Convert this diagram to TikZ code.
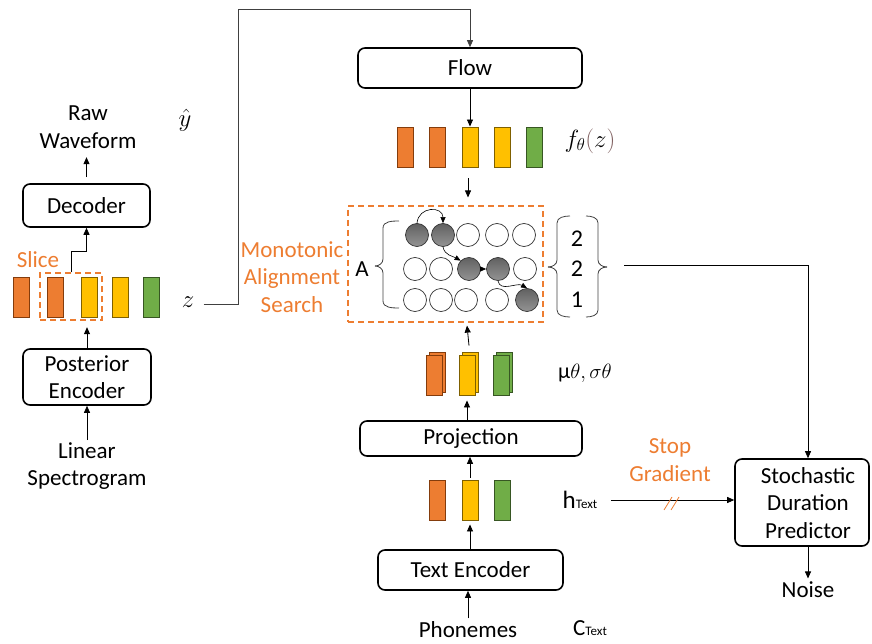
\documentclass[tikz,border=0pt]{standalone}
\usepackage{fontspec}
\setmainfont{Carlito}
\usetikzlibrary{arrows.meta,calc}
\definecolor{orgF}{HTML}{ED7D31}
\definecolor{orgD}{HTML}{843C0C}
\definecolor{yelF}{HTML}{FFC000}
\definecolor{yelD}{HTML}{7F6000}
\definecolor{grnF}{HTML}{70AD47}
\definecolor{grnD}{HTML}{375623}
\definecolor{otxt}{HTML}{ED7D31}
\definecolor{parc}{HTML}{7F5F5F}
\begin{document}
\begin{tikzpicture}[x=1pt,y=-1pt,
  font=\fontsize{23}{27.5}\selectfont,
  box/.style={draw, line width=1.6pt, rounded corners=7pt, inner sep=0pt, align=center},
  bar/.style={draw, line width=0.9pt, minimum width=16pt, minimum height=40pt, inner sep=0pt},
  ob/.style={bar, fill=orgF, draw=orgD},
  yb/.style={bar, fill=yelF, draw=yelD},
  gb/.style={bar, fill=grnF, draw=grnD},
  circ/.style={circle, draw=black!80, line width=0.7pt, minimum size=23pt, inner sep=0pt},
  fcirc/.style={circ, top color=black!62, bottom color=black!42},
  arr/.style={-{Triangle[length=7pt,width=6pt]}, line width=0.8pt},
  odash/.style={draw=otxt, dash pattern=on 6pt off 4pt, line width=1.2pt},
  lbl/.style={align=center, inner sep=2pt},
  brc/.style={line width=0.8pt, draw=black!75},
  mth/.style={font=\fontsize{26}{30}\selectfont}
]
\useasboundingbox (0,0) rectangle (872,644);

% ---------- left column ----------
\node[lbl] (rw) at (88,127) {Raw\\Waveform};
\node[mth] (yhat) at (185,120) {$\hat{y}$};
\node[box, minimum width=127pt, minimum height=43pt] (dec) at (86.5,205.5) {Decoder};
\node[text=otxt] (slicel) at (38,260) {Slice};
\node[ob] (l1) at (21,297) {};
\node[ob] (l2) at (55,297) {};
\node[yb] (l3) at (89,297) {};
\node[yb] (l4) at (120,297) {};
\node[gb] (l5) at (151,297) {};
\node[odash, minimum width=62pt, minimum height=47pt, inner sep=0pt] (slice) at (71,296.5) {};
\node[box, minimum width=128pt, minimum height=56pt] (pe) at (87,377) {Posterior\\Encoder};
\node[lbl] (ls) at (87,466) {Linear\\Spectrogram};
\node[mth] (z) at (188,302) {$z$};

\draw[arr] ($(dec.north)+(0,-6)$) -- ($(dec.north)+(0,-26)$);
\draw[arr] (slice.north) -- (71,251) -| (dec.south);
\draw[arr] (pe.north) -- ($(pe.north)+(0,-21)$);
\draw[arr] (ls.north) -- (pe.south);

% ---------- middle column ----------
\node[box, minimum width=224pt, minimum height=40pt] (flow) at (470,68) {Flow};
\draw[arr, draw=black!75] ($(z.east)+(6,2)$) -- (238,304) -- (238,9) -| (flow.north);
\node[ob] (f1) at (405,147) {};
\node[ob] (f2) at (437,147) {};
\node[yb] (f3) at (470,147) {};
\node[yb] (f4) at (502,147) {};
\node[gb] (f5) at (534,147) {};
\node[mth] (fz) at (590,141) {$f_{\theta}\textcolor{parc}{(}z\textcolor{parc}{)}$};

\node[odash, minimum width=195pt, minimum height=116pt, inner sep=0pt] (mas) at (445.5,264) {};
\node[lbl, text=otxt] (masl) at (292,277) {Monotonic\\Alignment\\Search};
\node (A) at (362,269) {A};

% circles
\node[fcirc] (c11) at (417,235) {};
\node[fcirc] (c12) at (443,235) {};
\node[circ]  (c13) at (468,235) {};
\node[circ]  (c14) at (497,235) {};
\node[circ]  (c15) at (524,235) {};
\node[circ]  (c21) at (415,269) {};
\node[circ]  (c22) at (441,269) {};
\node[fcirc] (c23) at (469,269) {};
\node[fcirc] (c24) at (498,269) {};
\node[circ]  (c25) at (525,269) {};
\node[circ]  (c31) at (415,300) {};
\node[circ]  (c32) at (441,300) {};
\node[circ]  (c33) at (466,300) {};
\node[circ]  (c34) at (497,300) {};
\node[fcirc] (c35) at (527,300) {};

\draw[-{Triangle[length=6pt,width=5pt]}, line width=0.6pt] (c11.north) to[out=85,in=90,looseness=1.7] (c12.north);
\draw[-{Triangle[length=6pt,width=5pt]}, line width=0.6pt] (c12.south) to[out=-80,in=150] (c23.north west);
\draw[-{Triangle[length=6pt,width=5pt]}, line width=0.6pt] (c23.east) -- (c24.west);
\draw[-{Triangle[length=6pt,width=5pt]}, line width=0.6pt] (c24.south) to[out=-80,in=150] (c35.north);

% brace for A
\draw[brc] (399,221) to[out=180,in=90] (383,228) -- (383,259) to[out=-90,in=0] (375,266);
\draw[brc] (399,308) to[out=180,in=-90] (383,301) -- (383,273) to[out=90,in=0] (375,266);

% durations
\node (d1) at (577,239) {\fontsize{24}{28}\selectfont 2};
\node (d2) at (577,269) {\fontsize{24}{28}\selectfont 2};
\node (d3) at (577,300) {\fontsize{24}{28}\selectfont 1};
\draw[brc] (570,216) to[out=180,in=90] (557,223) -- (557,260) to[out=-90,in=0] (548,267);
\draw[brc] (570,317) to[out=180,in=-90] (557,310) -- (557,274) to[out=90,in=0] (548,267);
\draw[brc] (586,216) to[out=0,in=90] (598,223) -- (598,260) to[out=-90,in=180] (607,267);
\draw[brc] (586,317) to[out=0,in=-90] (598,310) -- (598,274) to[out=90,in=180] (607,267);
\coordinate (durc) at (624,265);

% mu sigma bars
\node[ob] (m1b) at (437,372) {};
\node[ob] (m1) at (434.5,375) {};
\node[yb] (m2b) at (470,372) {};
\node[yb] (m2) at (467,375) {};
\node[gb] (m3b) at (504,372) {};
\node[gb] (m3) at (501,375) {};
\node (musig) at (585,373) {\fontsize{22}{25}\selectfont μ$\theta,\sigma\theta$};

\node[box, minimum width=222pt, minimum height=35pt] (proj) at (471,438.5) {Projection};
\node[ob] (h1) at (437,500) {};
\node[yb] (h2) at (470,500) {};
\node[gb] (h3) at (502,500) {};
\node (ht) at (580,500) {{\fontsize{25}{28}\selectfont h}{\fontsize{13}{15}\selectfont Text}};
\node[box, minimum width=185pt, minimum height=40pt] (te) at (470.5,570) {Text Encoder};
\node (phon) at (468,630) {Phonemes};
\node (ct) at (590,628) {C{\fontsize{13}{15}\selectfont Text}};

\draw[arr] (flow.south) -- (f3.north);
\draw[arr] ($(f3.south)+(-2,11)$) -- ($(f3.south)+(-2,30)$);
\draw[arr] ($(m2b.north)+(-1,-6)$) -- ($(mas.south -| m2.north)+(0,3)$);
\draw[arr] (proj.north -| m2.south) -- ($(m2.south)+(0,5)$);
\draw[arr] ($(h2.north)+(0,-2)$) -- (proj.south -| h2.north);
\draw[arr] (te.north -| h2.south) -- ($(h2.south)+(0,4)$);
\draw[arr] (phon.north) -- (te.south -| phon.north);

% ---------- right ----------
\node[box, minimum width=134pt, minimum height=87pt] (sdp) at (802,502.5) {};
\node[lbl] (sdpl) at (808,503) {Stochastic\\Duration\\Predictor};
\node[lbl, text=otxt] (sg) at (670,460) {Stop\\Gradient};
\node (noise) at (808,590) {Noise};

\draw[arr] (durc) -| ($(sdp.north)+(6,0)$);
\draw[arr] ($(ht.east)+(10,0)$) -- (sdp.west |- ht.east);
\draw[otxt, line width=0.8pt] (664,510) -- (672,497) (671,510) -- (679,497);
\draw[arr] ($(sdp.south)+(6,0)$) -- (noise.north);
\end{tikzpicture}
\end{document}
